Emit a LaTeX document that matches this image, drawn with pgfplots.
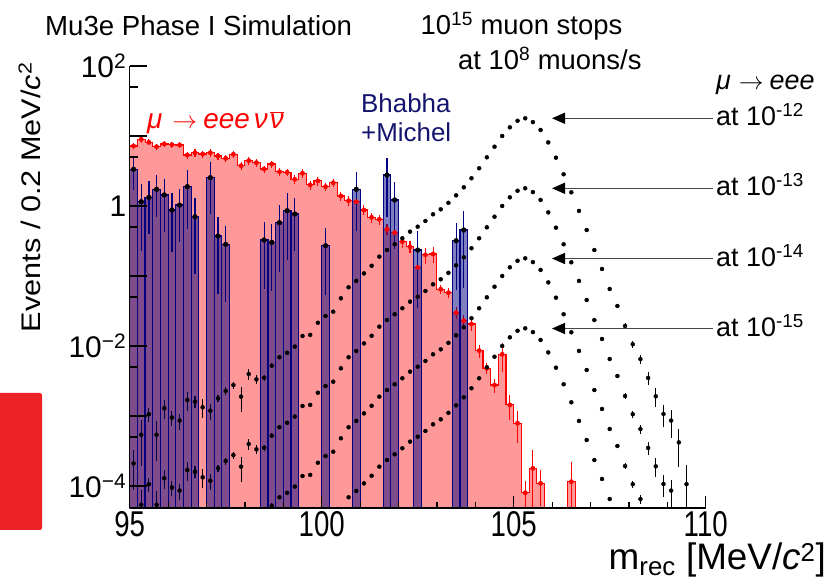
\documentclass[border=0pt]{standalone}
\usepackage{fontspec}
\setmainfont{Liberation Sans}
\usepackage{graphicx}
\usepackage{pgfplots}
\usepackage{pgfplotstable}
\pgfplotsset{compat=1.18}
\usetikzlibrary{arrows.meta}

\definecolor{histred}{RGB}{255,0,0}
\definecolor{histfill}{RGB}{255,153,153}
\definecolor{bgnavy}{RGB}{0,0,128}
\definecolor{txtnavy}{RGB}{20,20,110}
\definecolor{arrowgray}{RGB}{70,70,70}
\definecolor{boxred}{RGB}{236,34,38}

% signal mu -> eee, four branching ratios (same shape, one decade apart)
\pgfplotstableread{
x s12 s13 s14 s15 r
95.1 2.1e-4 nan nan nan 0.58
95.3 5.4e-4 5.4e-5 nan nan 0.64
95.5 1.06e-3 1.06e-4 nan nan 0.22
95.7 5.4e-4 5.4e-5 nan nan 0.58
95.9 1.29e-3 1.29e-4 nan nan 0.30
96.1 9.5e-4 9.5e-5 nan nan 0.25
96.3 8.6e-4 8.6e-5 nan nan 0.26
96.5 1.69e-3 1.69e-4 nan nan 0.30
96.7 1.60e-3 1.60e-4 nan nan 0.20
96.9 1.33e-3 1.33e-4 nan nan 0.30
97.1 1.19e-3 1.19e-4 nan nan 0.26
97.3 1.79e-3 1.79e-4 nan nan 0.12
97.5 2.28e-3 2.28e-4 nan nan 0.12
97.7 2.77e-3 2.77e-4 nan nan 0.12
97.9 1.89e-3 1.89e-4 nan nan 0.39
98.1 3.98e-3 3.98e-4 nan nan 0.18
98.3 3.34e-3 3.34e-4 nan nan 0.15
98.5 3.52e-3 3.52e-4 nan nan 0.10
98.7 5.24e-3 5.24e-4 5.24e-5 nan 0.08
98.9 6.9e-3 6.9e-4 6.9e-5 nan 0.07
99.1 8.0e-3 8.0e-4 8.0e-5 nan 0.06
99.3 9.8e-3 9.8e-4 9.8e-5 nan 0.06
99.5 1.39e-2 1.39e-3 1.39e-4 nan 0.05
99.7 1.44e-2 1.44e-3 1.44e-4 nan 0.05
99.9 2.15e-2 2.15e-3 2.15e-4 nan 0.04
100.1 2.68e-2 2.68e-3 2.68e-4 nan 0.04
100.3 3.09e-2 3.09e-3 3.09e-4 nan 0.04
100.5 4.8e-2 4.8e-3 4.8e-4 nan 0.03
100.7 6.9e-2 6.9e-3 6.9e-4 6.9e-5 0.03
100.9 8.5e-2 8.5e-3 8.5e-4 8.5e-5 0.03
101.1 0.109 1.09e-2 1.09e-3 1.09e-4 0.03
101.3 0.140 1.40e-2 1.40e-3 1.40e-4 0.02
101.5 0.189 1.89e-2 1.89e-3 1.89e-4 0.02
101.7 0.235 2.35e-2 2.35e-3 2.35e-4 0.02
101.9 0.284 2.84e-2 2.84e-3 2.84e-4 0.02
102.1 0.346 3.46e-2 3.46e-3 3.46e-4 0.02
102.3 0.430 4.30e-2 4.30e-3 4.30e-4 0.02
102.5 0.506 5.06e-2 5.06e-3 5.06e-4 0.02
102.7 0.611 6.11e-2 6.11e-3 6.11e-4 0.02
102.9 0.761 7.61e-2 7.61e-3 7.61e-4 0.02
103.1 0.897 8.97e-2 8.97e-3 8.97e-4 0.02
103.3 1.11 0.111 1.11e-2 1.11e-3 0.01
103.5 1.42 0.142 1.42e-2 1.42e-3 0.01
103.7 1.85 0.185 1.85e-2 1.85e-3 0.01
103.9 2.49 0.249 2.49e-2 2.49e-3 0.01
104.1 3.46 0.346 3.46e-2 3.46e-3 0.01
104.3 4.96 0.496 4.96e-2 4.96e-3 0.01
104.5 7.03 0.703 7.03e-2 7.03e-3 0.01
104.7 10.0 1.00 0.100 1.00e-2 0.01
104.9 13.3 1.33 0.133 1.33e-2 0.01
105.1 16.5 1.65 0.165 1.65e-2 0.01
105.3 17.9 1.79 0.179 1.79e-2 0.01
105.5 15.8 1.58 0.158 1.58e-2 0.01
105.7 12.2 1.22 0.122 1.22e-2 0.01
105.9 8.1 0.81 0.081 8.1e-3 0.01
106.1 4.9 0.49 0.049 4.9e-3 0.01
106.3 2.84 0.284 2.84e-2 2.84e-3 0.01
106.5 1.57 0.157 1.57e-2 1.57e-3 0.01
106.7 0.85 0.085 8.5e-3 8.5e-4 0.02
106.9 0.454 4.54e-2 4.54e-3 4.54e-4 0.02
107.1 0.235 2.35e-2 2.35e-3 2.35e-4 0.03
107.3 0.126 1.26e-2 1.26e-3 1.26e-4 0.04
107.5 6.52e-2 6.52e-3 6.52e-4 6.52e-5 0.05
107.7 3.73e-2 3.73e-3 3.73e-4 nan 0.07
107.9 1.93e-2 1.93e-3 1.93e-4 nan 0.10
108.1 1.06e-2 1.06e-3 1.06e-4 nan 0.12
108.3 6.5e-3 6.5e-4 6.5e-5 nan 0.15
108.5 3.5e-3 3.5e-4 nan nan 0.20
108.7 1.91e-3 1.91e-4 nan nan 0.30
108.9 1.07e-3 1.07e-4 nan nan 0.35
109.1 8.6e-4 8.6e-5 nan nan 0.43
109.3 4.2e-4 nan nan nan 0.55
109.5 1.06e-4 nan nan nan 0.90
}\sig

% mu -> eee nu nubar, bin centres
\pgfplotstableread{
x y r
95.1 7.2 0.1
95.3 8.97 0.1
95.5 8.13 0.1
95.7 7.03 0.1
95.9 7.69 0.1
96.1 7.52 0.1
96.3 7.43 0.1
96.5 5.35 0.12
96.7 5.77 0.12
96.9 5.53 0.12
97.1 5.77 0.12
97.3 5.18 0.12
97.5 4.80 0.12
97.7 5.48 0.12
97.9 3.77 0.12
98.1 4.44 0.12
98.3 4.16 0.12
98.5 3.38 0.12
98.7 3.98 0.12
98.9 3.09 0.12
99.1 3.03 0.12
99.3 2.41 0.14
99.5 2.93 0.14
99.7 2.0 0.14
99.9 2.28 0.14
100.1 1.89 0.14
100.3 2.15 0.14
100.5 1.39 0.15
100.7 1.19 0.15
100.9 1.15 0.15
101.1 0.877 0.16
101.3 0.69 0.16
101.5 0.645 0.16
101.7 0.465 0.18
101.9 0.416 0.18
102.1 0.309 0.2
102.3 0.262 0.2
102.5 0.133 0.25
102.7 0.2 0.26
102.9 0.206 0.26
103.1 0.0646 0.15
103.3 0.0577 0.15
103.5 0.0299 0.2
103.7 0.023 0.2
103.9 0.0206 0.2
104.1 8.6e-3 0.22
104.3 4.8e-3 0.18
104.5 2.77e-3 0.22
104.7 7.6e-3 0.44
104.9 1.44e-3 0.39
105.1 7.9e-4 0.48
105.3 8.0e-5 0.48
105.5 1.79e-4 0.81
105.7 1.09e-4 0.53
106.5 1.15e-4 0.9
}\redpts

% same histogram as bin left edges, for the step outline
\pgfplotstableread{
x y
95.0 1e-6
95.0 7.2
95.2 8.97
95.4 8.13
95.6 7.03
95.8 7.69
96.0 7.52
96.2 7.43
96.4 5.35
96.6 5.77
96.8 5.53
97.0 5.77
97.2 5.18
97.4 4.80
97.6 5.48
97.8 3.77
98.0 4.44
98.2 4.16
98.4 3.38
98.6 3.98
98.8 3.09
99.0 3.03
99.2 2.41
99.4 2.93
99.6 2.0
99.8 2.28
100.0 1.89
100.2 2.15
100.4 1.39
100.6 1.19
100.8 1.15
101.0 0.877
101.2 0.69
101.4 0.645
101.6 0.465
101.8 0.416
102.0 0.309
102.2 0.262
102.4 0.133
102.6 0.2
102.8 0.206
103.0 0.0646
103.2 0.0577
103.4 0.0299
103.6 0.023
103.8 0.0206
104.0 8.6e-3
104.2 4.8e-3
104.4 2.77e-3
104.6 7.6e-3
104.8 1.44e-3
105.0 7.9e-4
105.2 8.0e-5
105.4 1.79e-4
105.6 1.09e-4
105.8 1.09e-4
105.8 1e-6
}\redstep

% Bhabha + Michel
\pgfplotstableread{
x y r
95.1 3.35 0.5
95.3 1.15 0.8
95.5 1.33 0.7
95.7 1.73 0.6
95.9 1.44 0.7
96.1 0.877 0.75
96.3 1.03 0.7
96.5 1.89 0.75
96.7 0.703 0.85
97.1 2.54 0.7
97.3 0.373 0.85
97.5 0.284 0.85
98.5 0.327 0.8
98.7 0.303 0.8
98.9 0.577 0.8
99.1 0.857 0.8
99.3 0.769 0.7
100.1 0.271 0.8
100.9 1.73 0.75
101.7 2.77 0.75
101.9 1.22 0.8
102.5 0.235 0.85
103.5 0.319 0.8
103.7 0.454 0.85
}\bb

\begin{document}
\begin{tikzpicture}[x=1bp,y=1bp]
\path[use as bounding box] (0,0) rectangle (836,584);
\fill[boxred, rounded corners=2bp] (-6,54) rectangle (42,191);

\begin{axis}[
  at={(129.7bp,76bp)}, anchor=south west,
  scale only axis, width=576bp, height=442bp,
  xmin=95, xmax=110,
  ymode=log, ymin=4.85e-5, ymax=100,
  log origin=infty,
  axis x line*=bottom, axis y line*=left,
  axis line style={line width=1.2bp},
  axis on top,
  tick style={black, line width=1.2bp},
  xtick={95,100,105,110},
  minor xtick={96,97,98,99,101,102,103,104,106,107,108,109},
  xticklabels={\scalebox{0.77}[1]{95},\scalebox{0.77}[1]{100},\scalebox{0.77}[1]{105},\scalebox{0.77}[1]{110}},
  xtick style={/pgfplots/major tick length=12bp, /pgfplots/minor tick length=6bp},
  xticklabel style={font=\fontsize{36}{36}\selectfont, inner sep=1bp, yshift=-2bp},
  ytick={1e-4,1e-3,1e-2,1e-1,1,10,100},
  yticklabels={10\textsuperscript{−4},,10\textsuperscript{−2},,1,,10\textsuperscript{2}},
  minor ytick={5e-4,5e-3,5e-2,0.5,5,50},
  ytick style={/pgfplots/major tick length=17bp, /pgfplots/minor tick length=8bp},
  yticklabel style={font=\fontsize{30}{30}\selectfont},
]

% mu -> eee nu nubar : filled step histogram
\addplot[const plot, fill=histfill, draw=histred, line width=1.1bp] table[x=x,y=y] {\redstep};
\addplot[fill=histfill, draw=histred, line width=1.1bp] coordinates {
  (106.4,1e-6) (106.4,1.15e-4) (106.6,1.15e-4) (106.6,1e-6)
};
\addplot[only marks, mark=*, mark size=2.2bp, color=histred,
  error bars/.cd, y dir=both, y explicit relative, error mark=none,
  error bar style={line width=1.1bp, histred}]
  table[x=x,y=y,y error=r] {\redpts};

% mu -> eee signal at 1e-12 ... 1e-15
\pgfplotsset{sigstyle/.style={only marks, mark=*, mark size=2bp, black,
  error bars/.cd, y dir=both, y explicit relative, error mark=none,
  error bar style={line width=1.1bp, black}}}
\addplot[sigstyle] table[x=x,y=s12,y error=r] {\sig};
\addplot[sigstyle] table[x=x,y=s13,y error=r] {\sig};
\addplot[sigstyle] table[x=x,y=s14,y error=r] {\sig};
\addplot[sigstyle] table[x=x,y=s15,y error=r] {\sig};

% Bhabha + Michel
\addplot[ybar, bar width=0.2, bar shift=0pt, draw=bgnavy, line width=1.2bp,
  fill=bgnavy, fill opacity=0.5] table[x=x,y=y] {\bb};
\addplot[only marks, mark=*, mark size=2.4bp, black,
  error bars/.cd, y dir=both, y explicit relative, error mark=none,
  error bar style={line width=1.2bp, bgnavy}]
  table[x=x,y=y,y error=r] {\bb};
\end{axis}

% axis titles
\node[rotate=90, anchor=base east, inner sep=0, font=\fontsize{27}{27}\selectfont]
  at (40.7,522) {\scalebox{1.14}[1]{Events / 0.2 MeV/\textit{c}\textsuperscript{2}}};
\node[anchor=base east, inner sep=0, font=\fontsize{37}{37}\selectfont]
  at (826,14) {m\textsubscript{rec} [MeV/\textit{c}\textsuperscript{2}]};

% header texts
\node[anchor=base west, inner sep=0, font=\fontsize{27.7}{28}\selectfont]
  at (45,548) {Mu3e Phase I Simulation};
\node[anchor=base west, inner sep=0, font=\fontsize{27.5}{28}\selectfont]
  at (420.5,549) {10\textsuperscript{15} muon stops};
\node[anchor=base west, inner sep=0, font=\fontsize{27.5}{28}\selectfont]
  at (458,514) {at 10\textsuperscript{8} muons/s};

% process labels
\node[anchor=base west, inner sep=0, text=histred, font=\fontsize{28}{28}\selectfont]
  at (147,455.7) {\textit{μ}\hspace{10bp}$\rightarrow$\hspace{6bp}\textit{eee}\hspace{4bp}\textit{ν}\hspace{2bp}$\overline{\mbox{\textit{ν}}}$};
\node[anchor=base west, inner sep=0, text=txtnavy, font=\fontsize{26}{26}\selectfont]
  at (361,471) {Bhabha};
\node[anchor=base west, inner sep=0, text=txtnavy, font=\fontsize{26}{26}\selectfont]
  at (361,442.3) {+Michel};
\node[anchor=base west, inner sep=0, font=\fontsize{27}{27}\selectfont]
  at (716,494) {\textit{μ}\hspace{8bp}$\rightarrow$\hspace{6bp}\textit{eee}};

% arrows to the signal peaks
\foreach \ly/\ex in {465.7/12, 395.7/13, 325.5/14, 255.5/15} {
  \draw[arrowgray, line width=1.5bp, -{Triangle[length=13bp,width=11bp,color=black]}]
    (713,\ly) -- (552,\ly);
  \node[anchor=base west, inner sep=0, font=\fontsize{27}{28}\selectfont]
    at (716,\ly-7.7) {at 10\textsuperscript{-\ex}};
}
\end{tikzpicture}
\end{document}
